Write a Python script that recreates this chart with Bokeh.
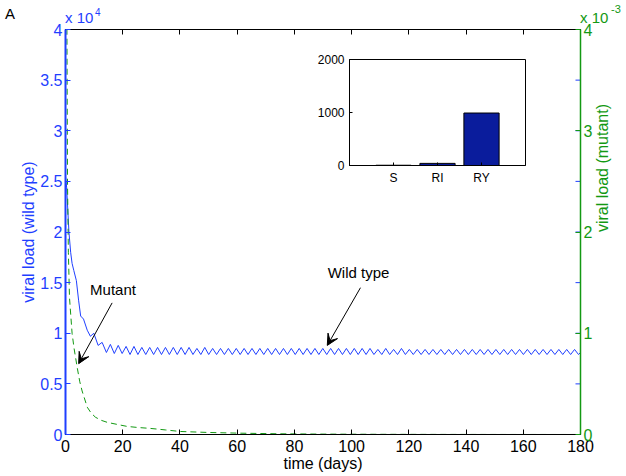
import math
from bokeh.plotting import figure
from bokeh.models import (Range1d, LinearAxis, FixedTicker, Label, Arrow,
                          VeeHead, FactorRange, Div)
from bokeh.layouts import column
from bokeh.embed import file_html
from bokeh.resources import INLINE

# ---------------- data ----------------
x_ticks = [0, 20, 40, 60, 80, 100, 120, 140, 160, 180]
x_tick_labels = ["0", "20", "40", "60", "80", "100", "120", "140", "160", "180"]
wild_ticks = [0, 0.5, 1, 1.5, 2, 2.5, 3, 3.5, 4]
wild_tick_labels = ["0", "0.5", "1", "1.5", "2", "2.5", "3", "3.5", "4"]
mut_ticks = [0, 1, 2, 3, 4]
mut_tick_labels = ["0", "1", "2", "3", "4"]

# wild type viral load (x 10^4)
wild_t = [0.0, 0.4, 1.2, 1.8, 2.3, 2.9, 3.8, 4.6, 5.3, 6.3, 7.6, 8.7, 9.9, 11.4, 12.8,
          14.30, 15.68, 17.05, 18.43, 19.80, 21.18, 22.55, 23.93, 25.30, 26.68,
          28.05, 29.43, 30.80, 32.18, 33.55, 34.93, 36.30, 37.68, 39.05, 40.43,
          41.80, 43.18, 44.55, 45.93, 47.30, 48.68, 50.05, 51.43, 52.80, 54.18,
          55.55, 56.93, 58.30, 59.68, 61.05, 62.43, 63.80, 65.18, 66.55, 67.93,
          69.30, 70.68, 72.05, 73.43, 74.80, 76.18, 77.55, 78.93, 80.30, 81.68,
          83.05, 84.43, 85.80, 87.18, 88.55, 89.93, 91.30, 92.68, 94.05, 95.43,
          96.80, 98.18, 99.55, 100.93, 102.30, 103.68, 105.05, 106.43, 107.80, 109.18,
          110.55, 111.93, 113.30, 114.68, 116.05, 117.43, 118.80, 120.18, 121.55, 122.93,
          124.30, 125.68, 127.05, 128.43, 129.80, 131.18, 132.55, 133.93, 135.30, 136.68,
          138.05, 139.43, 140.80, 142.18, 143.55, 144.93, 146.30, 147.68, 149.05, 150.43,
          151.80, 153.18, 154.55, 155.93, 157.30, 158.68, 160.05, 161.43, 162.80, 164.18,
          165.55, 166.93, 168.30, 169.68, 171.05, 172.43, 173.80, 175.18, 176.55, 177.93,
          179.30, 180.00]
wild_y = [2.55, 2.44, 2.00, 1.80, 1.69, 1.62, 1.52, 1.32, 1.17, 1.14, 1.03, 0.97, 1.00, 0.88, 0.91,
          0.81, 0.89, 0.80, 0.88, 0.80, 0.87, 0.79, 0.87, 0.79, 0.86,
          0.79, 0.86, 0.79, 0.86, 0.79, 0.86, 0.79, 0.86, 0.79, 0.86,
          0.79, 0.86, 0.79, 0.85, 0.79, 0.86, 0.79, 0.85, 0.79, 0.85,
          0.79, 0.85, 0.79, 0.85, 0.79, 0.85, 0.79, 0.85, 0.79, 0.85,
          0.79, 0.85, 0.79, 0.85, 0.79, 0.85, 0.79, 0.85, 0.79, 0.85,
          0.79, 0.85, 0.79, 0.85, 0.79, 0.85, 0.79, 0.85, 0.79, 0.85,
          0.79, 0.85, 0.79, 0.85, 0.79, 0.85, 0.79, 0.85, 0.79, 0.84,
          0.79, 0.85, 0.79, 0.84, 0.79, 0.85, 0.79, 0.84, 0.79, 0.84,
          0.79, 0.84, 0.79, 0.84, 0.79, 0.84, 0.79, 0.84, 0.79, 0.84,
          0.79, 0.84, 0.79, 0.84, 0.79, 0.84, 0.79, 0.84, 0.79, 0.84,
          0.79, 0.84, 0.79, 0.84, 0.79, 0.84, 0.79, 0.84, 0.79, 0.84,
          0.79, 0.84, 0.79, 0.84, 0.79, 0.84, 0.79, 0.84, 0.79, 0.84,
          0.79, 0.81]

# mutant viral load (x 10^-3)
mut_t = [0.0, 0.5, 0.7, 1.0, 1.4, 2.3, 3.0, 4.1, 5.0, 5.8, 7.6, 9.0, 10.5, 12.5, 14.6,
         18.0, 21.5, 25.0, 29.7, 35.0, 40.0, 50.0, 61.0, 75.0, 90.0, 110.0, 130.0, 150.0, 180.0]
mut_y = [4.6, 4.0, 2.5, 1.8, 1.35, 1.0, 0.85, 0.66, 0.52, 0.43, 0.27, 0.21, 0.17, 0.14, 0.12,
         0.10, 0.08, 0.07, 0.06, 0.045, 0.03, 0.02, 0.013, 0.007, 0.004, 0.002, 0.001, 0.0005, 0.0002]

# inset bars
inset_cats = ["S", "RI", "RY"]
inset_vals = [5, 40, 990]
inset_ticks = [0, 1000, 2000]

# ---------------- style ----------------
FONT = "Liberation Sans"
BLUE = "#1f3fff"
GREEN = "#139913"
BAR = "#0a1c9c"

p = figure(width=626, height=476, output_backend="svg", toolbar_location=None,
           x_range=Range1d(0, 180), y_range=Range1d(0, 4),
           min_border_left=65, min_border_right=46, min_border_top=29, min_border_bottom=42,
           background_fill_color="white", border_fill_color="white")
p.extra_y_ranges = {"mut": Range1d(0, 4)}
p.grid.visible = False
p.outline_line_color = "black"
p.outline_line_width = 1

# bottom axis
xa = p.xaxis[0]
xa.ticker = FixedTicker(ticks=x_ticks)
xa.major_label_overrides = dict(zip(x_ticks, x_tick_labels))
xa.major_tick_in = 5
xa.major_tick_out = 0
xa.minor_tick_line_color = None
xa.axis_line_color = "black"
xa.major_tick_line_color = "black"
xa.major_label_text_font = FONT
xa.major_label_text_font_size = "16px"
xa.major_label_text_color = "black"
xa.major_label_standoff = 5
xa.axis_label = "time (days)"
xa.axis_label_text_font = FONT
xa.axis_label_text_font_size = "16px"
xa.axis_label_text_font_style = "normal"
xa.axis_label_text_color = "black"
xa.axis_label_standoff = 0

# left axis
ya = p.yaxis[0]
ya.ticker = FixedTicker(ticks=wild_ticks)
ya.major_label_overrides = dict(zip(wild_ticks, wild_tick_labels))
ya.major_tick_in = 5
ya.major_tick_out = 0
ya.minor_tick_line_color = None
ya.axis_line_color = BLUE
ya.axis_line_width = 2
ya.major_tick_line_color = BLUE
ya.major_label_text_font = FONT
ya.major_label_text_font_size = "16px"
ya.major_label_text_color = BLUE
ya.major_label_standoff = 3
ya.axis_label = "viral load (wild type)"
ya.axis_label_text_font = FONT
ya.axis_label_text_font_size = "16px"
ya.axis_label_text_font_style = "normal"
ya.axis_label_text_color = BLUE
ya.axis_label_standoff = 0

# right axis
ra = LinearAxis(y_range_name="mut", ticker=FixedTicker(ticks=mut_ticks))
ra.major_label_overrides = dict(zip(mut_ticks, mut_tick_labels))
ra.major_tick_in = 5
ra.major_tick_out = 0
ra.minor_tick_line_color = None
ra.axis_line_color = GREEN
ra.axis_line_width = 1.5
ra.major_tick_line_color = GREEN
ra.major_label_text_font = FONT
ra.major_label_text_font_size = "16px"
ra.major_label_text_color = GREEN
ra.major_label_standoff = 3
ra.axis_label = "viral load (mutant)"
ra.axis_label_text_font = FONT
ra.axis_label_text_font_size = "16px"
ra.axis_label_text_font_style = "normal"
ra.axis_label_text_color = GREEN
ra.axis_label_standoff = 7
try:
    ra.axis_label_orientation = math.pi / 2
except Exception:
    pass
p.add_layout(ra, "right")

# top axis (ticks only)
ta = LinearAxis(ticker=FixedTicker(ticks=x_ticks))
ta.major_label_overrides = {t: "" for t in x_ticks}
ta.major_label_text_font_size = "1px"
ta.major_label_standoff = 0
ta.major_tick_in = 5
ta.major_tick_out = 0
ta.minor_tick_line_color = None
ta.axis_line_color = "black"
p.add_layout(ta, "above")

# curves
p.line(wild_t, wild_y, line_color=BLUE, line_width=1)
p.line(mut_t, mut_y, line_color=GREEN, line_width=1, line_dash="6 4", y_range_name="mut")

# blue (left-scale) ticks mirrored on the right edge
p.scatter([p.x_range.end] * len(wild_ticks), wild_ticks, marker="dash", size=10,
          line_color=BLUE, line_width=1)

# annotations
p.add_layout(Label(x=16.6, y=1.35, text="Mutant", text_align="center",
                   text_font=FONT, text_font_size="15px", text_color="black"))
p.add_layout(Arrow(x_start=16.3, y_start=1.30, x_end=4.6, y_end=0.70, line_width=1,
                   line_color="black",
                   end=VeeHead(size=11, fill_color="black", line_color="black", line_width=1)))
p.add_layout(Label(x=102.4, y=1.52, text="Wild type", text_align="center",
                   text_font=FONT, text_font_size="15px", text_color="black"))
p.add_layout(Arrow(x_start=103.1, y_start=1.45, x_end=91.5, y_end=0.88, line_width=1,
                   line_color="black",
                   end=VeeHead(size=11, fill_color="black", line_color="black", line_width=1)))

# ---------------- inset ----------------
# (the column aligns plot borders with the main figure: left 65, right 46)
inset = figure(width=65 + 176 + 46, height=134, output_backend="svg", toolbar_location=None,
               x_range=FactorRange(factors=inset_cats, range_padding=1 / 3),
               y_range=Range1d(0, 2000),
               min_border_left=65, min_border_right=46, min_border_top=6, min_border_bottom=22,
               background_fill_color="white", border_fill_alpha=0)
inset.margin = (53 - 476, 0, 476 - 53 - 134, 349 - 65)
inset.grid.visible = False
inset.outline_line_color = "black"
inset.vbar(x=inset_cats, top=inset_vals, width=0.8, fill_color=BAR, line_color="black",
           line_width=1)

iy = inset.yaxis[0]
iy.ticker = FixedTicker(ticks=inset_ticks)
iy.major_label_overrides = {t: str(t) for t in inset_ticks}
iy.major_tick_in = 3
iy.major_tick_out = 0
iy.minor_tick_line_color = None
iy.major_label_text_font = FONT
iy.major_label_text_font_size = "12px"
iy.major_label_text_color = "black"
iy.major_label_standoff = 5

ix = inset.xaxis[0]
ix.major_tick_in = 3
ix.major_tick_out = 0
ix.major_label_text_font = FONT
ix.major_label_text_font_size = "12px"
ix.major_label_text_color = "black"
ix.major_label_standoff = 5

# ---------------- texts above the frame ----------------
FF = "font-family:'Liberation Sans',Arial,sans-serif;line-height:1;white-space:nowrap;position:absolute;"
top_html = (
    '<div style="position:relative;width:626px;height:30px;">'
    f'<span style="{FF}left:5px;top:6px;font-size:15px;color:black;">A</span>'
    f'<span style="{FF}left:65px;top:10px;font-size:15px;color:{BLUE};">x 10</span>'
    f'<span style="{FF}left:95px;top:8px;font-size:10px;color:{BLUE};">4</span>'
    f'<span style="{FF}left:580px;top:10px;font-size:15px;color:{GREEN};">x 10</span>'
    f'<span style="{FF}left:611px;top:4px;font-size:11px;color:{GREEN};">-3</span>'
    '</div>'
)
top_div = Div(text=top_html, width=626, height=30, margin=(-476, 0, 446, 0))

layout = column(p, inset, top_div, spacing=0)
open("out.html", "w").write(file_html(layout, INLINE))
